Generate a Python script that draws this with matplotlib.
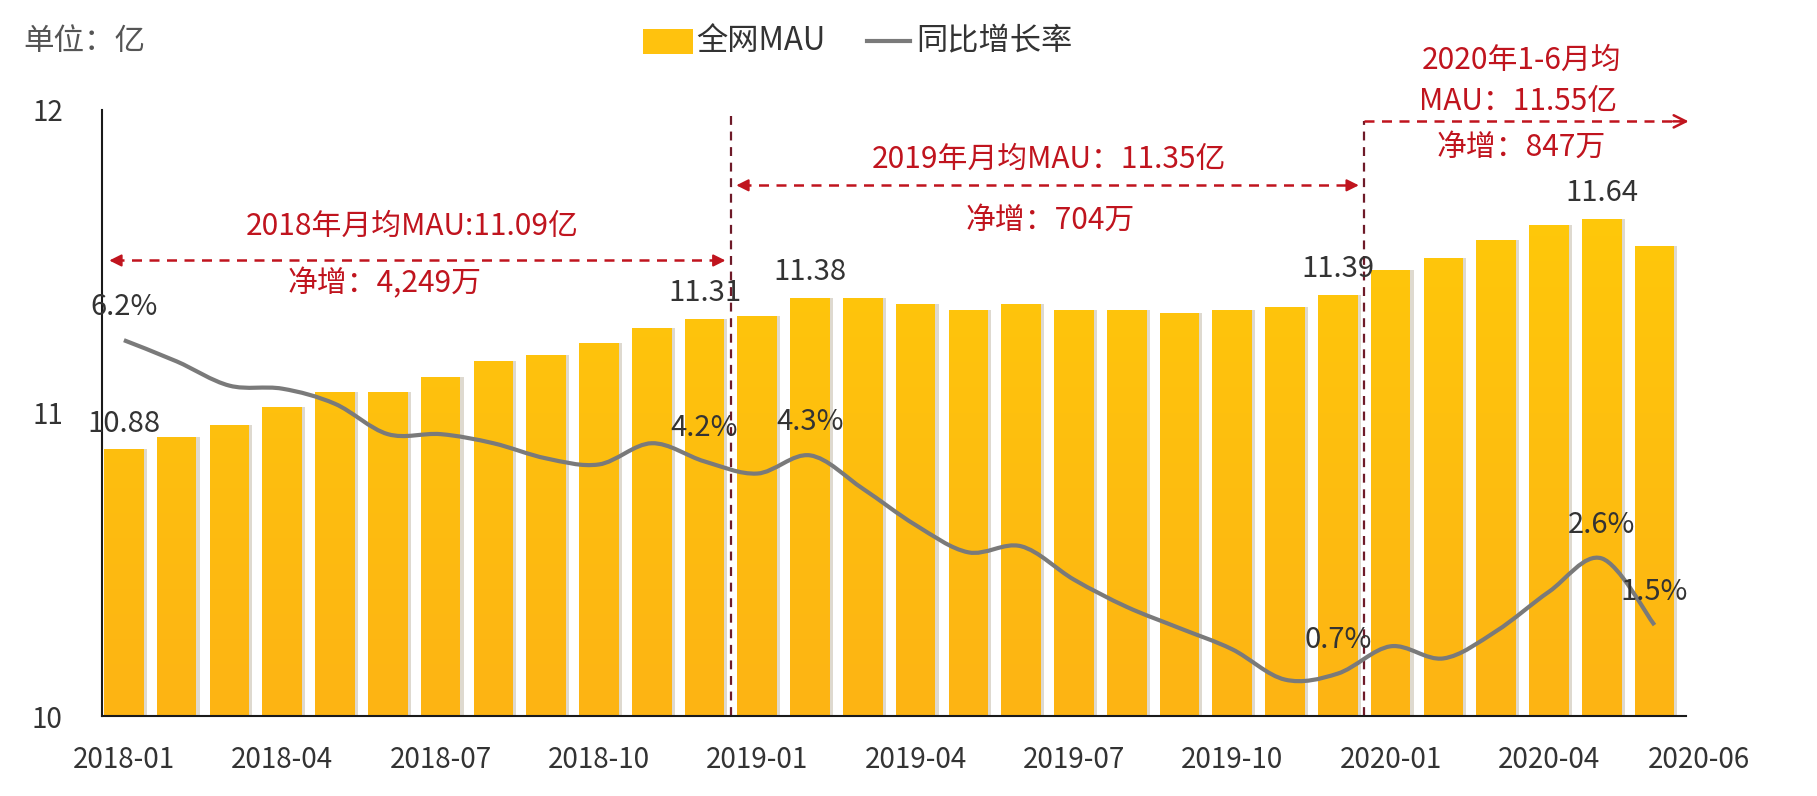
import numpy as np
import matplotlib
matplotlib.use("Agg")
import matplotlib.pyplot as plt
from matplotlib.path import Path
from matplotlib.patches import PathPatch, Rectangle
from matplotlib.lines import Line2D
from matplotlib.colors import LinearSegmentedColormap

plt.rcParams['font.family'] = ['Noto Sans CJK SC', 'DejaVu Sans']

# 数据：全网MAU（亿）与同比增长率（%）
months = ['2018-01', '2018-02', '2018-03', '2018-04', '2018-05', '2018-06',
          '2018-07', '2018-08', '2018-09', '2018-10', '2018-11', '2018-12',
          '2019-01', '2019-02', '2019-03', '2019-04', '2019-05', '2019-06',
          '2019-07', '2019-08', '2019-09', '2019-10', '2019-11', '2019-12',
          '2020-01', '2020-02', '2020-03', '2020-04', '2020-05', '2020-06']
mau = [10.88, 10.92, 10.96, 11.02, 11.07, 11.07, 11.12, 11.17, 11.19, 11.23, 11.28, 11.31,
       11.32, 11.38, 11.38, 11.36, 11.34, 11.36, 11.34, 11.34, 11.33, 11.34, 11.35, 11.39,
       11.47, 11.51, 11.57, 11.62, 11.64, 11.55]
growth = [6.2, 5.85, 5.45, 5.4, 5.15, 4.65, 4.65, 4.5, 4.25, 4.15, 4.5, 4.2,
          4.0, 4.3, 3.75, 3.15, 2.7, 2.8, 2.25, 1.8, 1.45, 1.1, 0.6, 0.7,
          1.15, 0.95, 1.4, 2.05, 2.6, 1.5]
tick_idx = [0, 3, 6, 9, 12, 15, 18, 21, 24, 27]
bar_label_idx = [0, 11, 13, 23, 28]
growth_label_idx = [0, 11, 13, 23, 28, 29]

RED = '#C0141E'
DARK = '#333333'

fig = plt.figure(figsize=(18.17, 7.96), dpi=100)
ax = fig.add_axes([0.056, 0.1005, 0.872, 0.7615])
x = np.arange(len(months))

# 阴影 + 渐变柱
ax.bar(x + 0.06, mau, width=0.75, color='#d6d0c4', alpha=0.8, zorder=1)
bars = ax.bar(x, mau, width=0.75, color='none', edgecolor='none', zorder=2)
cmap = LinearSegmentedColormap.from_list('g', ['#FDB414', '#FFCC08'])
grad = np.linspace(0, 1, 256).reshape(-1, 1)
img = ax.imshow(grad, extent=[-0.5, 29.5, 10, 12], origin='lower', aspect='auto',
                cmap=cmap, zorder=2)
paths = [b.get_path().transformed(b.get_patch_transform()) for b in bars]
clip = PathPatch(Path.make_compound_path(*paths), transform=ax.transData,
                 facecolor='none', edgecolor='none')
ax.add_patch(clip)
img.set_clip_path(clip)

ax.set_xlim(-0.42, 29.6)
ax.set_ylim(10, 12)
ax.set_yticks([10, 11, 12])
ax.set_xticks(tick_idx)
ax.set_xticklabels([months[i] for i in tick_idx])
ax.tick_params(axis='both', length=0, labelsize=20, colors=DARK)
ax.tick_params(axis='x', pad=21)
ax.tick_params(axis='y', pad=28)
ax.annotate(months[-1], xy=(29.85, 10), xycoords='data', xytext=(0, -21),
            textcoords='offset points', ha='center', va='top', fontsize=20,
            color=DARK, annotation_clip=False)
for s in ['top', 'right']:
    ax.spines[s].set_visible(False)
for s in ['left', 'bottom']:
    ax.spines[s].set_color('#1a1a1a')
    ax.spines[s].set_linewidth(1.5)
    ax.spines[s].set_zorder(5)

for i in bar_label_idx:
    ax.text(i, mau[i] + 0.085, f'{mau[i]:.2f}', ha='center', va='center',
            fontsize=21, color=DARK, zorder=6)

# 同比增长率（平滑曲线）
ax2 = ax.twinx()
ax2.set_ylim(0, 10)
ax2.axis('off')
P = np.column_stack([x.astype(float), growth])
Pe = np.vstack([P[0], P, P[-1]])
verts = [P[0]]
codes = [Path.MOVETO]
for k in range(len(P) - 1):
    p0, p1, p2, p3 = Pe[k], Pe[k + 1], Pe[k + 2], Pe[k + 3]
    verts += [p1 + (p2 - p0) / 6, p2 - (p3 - p1) / 6, p2]
    codes += [Path.CURVE4] * 3
ax2.add_patch(PathPatch(Path(verts, codes), facecolor='none', edgecolor='#7a7a7a',
                        lw=3, zorder=4))
for i in growth_label_idx:
    ax2.text(i, growth[i] + 0.55, f'{growth[i]:.1f}%', ha='center', va='center',
             fontsize=21, color=DARK, zorder=6)

# 分段标注
vline_kw = dict(color='#6e1a28', lw=1.6, ls=(0, (4, 3)), zorder=5, clip_on=False)
ax.plot([11.5, 11.5], [10, 11.98], **vline_kw)
ax.plot([23.5, 23.5], [10, 11.962], **vline_kw)

hline_kw = dict(color=RED, lw=1.8, ls=(0, (4, 3)), zorder=5, clip_on=False)
head = dict(arrowstyle='-|>', color=RED, lw=1.5, mutation_scale=18)


def span(x0, x1, y):
    ax.plot([x0 + 0.15, x1 - 0.15], [y, y], **hline_kw)
    ax.annotate('', xy=(x0, y), xytext=(x0 + 0.3, y), arrowprops=head, annotation_clip=False)
    ax.annotate('', xy=(x1, y), xytext=(x1 - 0.3, y), arrowprops=head, annotation_clip=False)


span(-0.33, 11.45, 11.503)
span(11.55, 23.45, 11.751)
ax.plot([23.5, 29.5], [11.962, 11.962], **hline_kw)
ax.annotate('', xy=(29.7, 11.962), xytext=(29.3, 11.962),
            arrowprops=dict(arrowstyle='->', color=RED, lw=1.8, mutation_scale=22),
            annotation_clip=False)

txt = dict(color=RED, fontsize=21.5, ha='center', va='center', zorder=6, clip_on=False)
ax.text(5.46, 11.614, '2018年月均MAU:11.09亿', **txt)
ax.text(4.93, 11.426, '净增：4,249万', **txt)
ax.text(17.53, 11.836, '2019年月均MAU：11.35亿', **txt)
ax.text(17.55, 11.637, '净增：704万', **txt)
ax.text(26.48, 12.164, '2020年1-6月均', **txt)
ax.text(26.42, 12.027, 'MAU：11.55亿', **txt)
ax.text(26.48, 11.878, '净增：847万', **txt)

# 单位与图例
fig.text(0.0127, 0.948, '单位：亿', fontsize=22, color='#555555', va='center')
fig.add_artist(Rectangle((0.354, 0.932), 0.0275, 0.0314, transform=fig.transFigure,
                         facecolor='#FFC20E', edgecolor='none'))
fig.text(0.383, 0.948, '全网MAU', fontsize=22.5, color=DARK, va='center')
fig.add_artist(Line2D([0.477, 0.501], [0.948, 0.948], transform=fig.transFigure,
                      color='#7a7a7a', lw=3))
fig.text(0.504, 0.948, '同比增长率', fontsize=22.5, color=DARK, va='center')

fig.savefig('out.png', dpi=100)
